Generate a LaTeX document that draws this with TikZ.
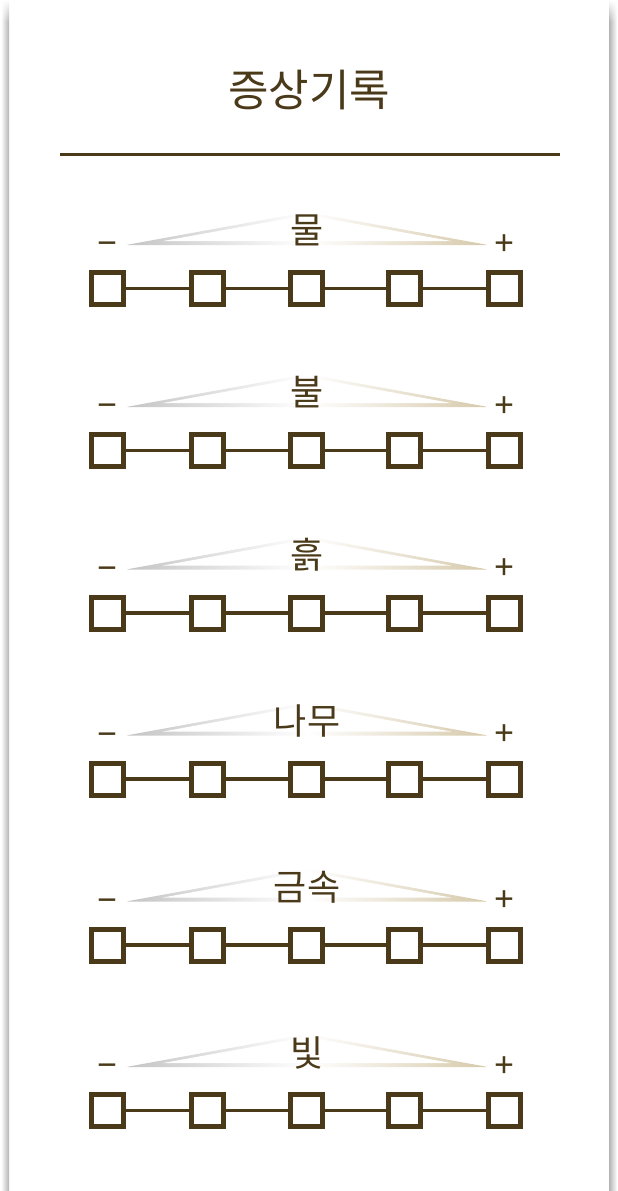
\documentclass[tikz,border=0pt]{standalone}
\usepackage{fontspec}
\newfontfamily\kr{Noto Sans CJK KR}
\newfontfamily\ns{Noto Sans}
\usetikzlibrary{fadings}
\definecolor{brn}{RGB}{74,58,26}
\definecolor{tgray}{RGB}{196,196,196}
\definecolor{tbeige}{RGB}{214,201,170}
\tikzfading[name=topfade, top color=transparent!0, bottom color=transparent!100]
\tikzset{
  box/.style={draw=brn, line width=5pt, fill=white, minimum size=32pt, inner sep=0pt, outer sep=0pt},
  link/.style={draw=brn, line width=3.5pt},
  lab/.style={font=\kr\fontsize{36}{36}\selectfont, text=brn, inner sep=0pt},
  sign/.style={font=\ns\fontsize{35}{35}\selectfont, text=brn, inner sep=0pt},
  ttl/.style={font=\kr\fontsize{44}{44}\selectfont, text=brn, inner sep=0pt},
  wedge/.style={left color=tgray, right color=tbeige, middle color=white},
}
\begin{document}
\begin{tikzpicture}[x=1pt,y=-1pt]
\useasboundingbox (0,0) rectangle (618,1191);
\fill[white] (0,0) rectangle (618,1191);
% card shadow
\shade[left color=white, right color=black!30] (1,0) rectangle (9,1191);
\shade[left color=black!30, right color=white] (609,0) rectangle (617,1191);
\fill[white, path fading=topfade] (0,0) rectangle (618,22);
% title
\node[ttl] (title) at (309,90) {증상기록};
\coordinate (rl) at (60,154);
\coordinate (rr) at (560,154);
\draw[brn, line width=3pt] (rl) -- (rr);
% rows
\foreach \cy/\lab [count=\r] in {288.5/물,450.5/불,613/흙,779/나무,945/금속,1110.5/빛}{
  \pgfmathsetmacro{\ly}{\cy-45.5}
  \shade[wedge, rounded corners=2pt]
    (126,{\ly+2}) -- (307,{\ly-31}) -- (488,{\ly+2}) -- cycle;
  \fill[white] (163,{\ly-2}) -- (307,{\ly-28}) -- (451,{\ly-2}) -- cycle;
  \node[lab] (l\r) at (307,{\cy-58}) {\lab};
  \node[sign] (m\r) at (107.5,{\ly+6}) {−};
  \node[sign] (p\r) at (504.5,{\ly+2}) {+};
  \foreach \bx [count=\k] in {107.5,207,306.5,404,504}{
    \node[box] (b\r-\k) at (\bx,\cy) {};
  }
  \foreach \k [evaluate=\k as \n using int(\k+1)] in {1,2,3,4}{
    \draw[link] (b\r-\k.east) -- (b\r-\n.west);
  }
}
\end{tikzpicture}
\end{document}
